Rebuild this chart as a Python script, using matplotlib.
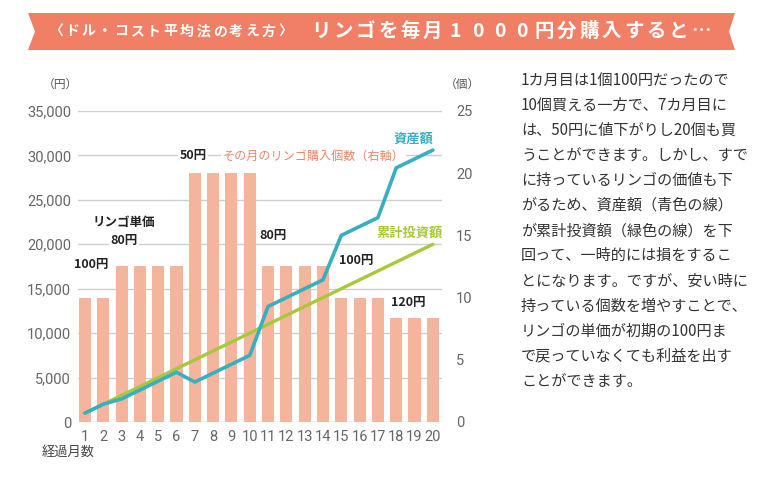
import numpy as np
import matplotlib
matplotlib.use("Agg")
import matplotlib.pyplot as plt
from matplotlib.patches import Polygon

plt.rcParams['font.family'] = ['Noto Sans CJK JP', 'DejaVu Sans']

# データ
months = list(range(1, 21))
kosu = [10, 10, 12.5, 12.5, 12.5, 12.5, 20, 20, 20, 20,
        12.5, 12.5, 12.5, 12.5, 10, 10, 10, 8.33, 8.33, 8.33]
toshi = [1000, 2000, 3000, 4000, 5000, 6000, 7000, 8000, 9000, 10000,
         11000, 12000, 13000, 14000, 15000, 16000, 17000, 18000, 19000, 20000]
shisan = [1000, 2000, 2600, 3600, 4600, 5600, 4500, 5500, 6500, 7500,
          13000, 14000, 15000, 16000, 21000, 22000, 23000, 28600, 29600, 30600]
yen_ticks = [0, 5000, 10000, 15000, 20000, 25000, 30000, 35000]
ko_ticks = [0, 5, 10, 15, 20, 25]

# 単価ラベル (x, y[円], text)
tanka = [(1.33, 17670, "100円"), (3.13, 22500, "リンゴ単価"), (3.13, 20480, "80円"),
         (6.9, 30000, "50円"), (11.26, 21040, "80円"), (15.79, 18120, "100円"),
         (18.63, 13500, "120円")]

honbun = ["1カ月目は1個100円だったので",
          "10個買える一方で、7カ月目に",
          "は、50円に値下がりし20個も買",
          "うことができます。しかし、すで",
          "に持っているリンゴの価値も下",
          "がるため、資産額（青色の線）",
          "が累計投資額（緑色の線）を下",
          "回って、一時的には損をするこ",
          "とになります。ですが、安い時に",
          "持っている個数を増やすことで、",
          "リンゴの単価が初期の100円ま",
          "で戻っていなくても利益を出す",
          "ことができます。"]

BAR = '#F5B59C'
TEAL = '#38AFC1'
GREEN = '#A8C83C'
GRAY = '#666666'
W, H = 757, 492

fig = plt.figure(figsize=(7.57, 4.92), dpi=100)

# 見出しの帯
pts = [(28, 13), (735, 13), (729, 31.5), (735, 50), (28, 50), (35, 31.5)]
fig.patches.append(Polygon([(x / W, 1 - y / H) for x, y in pts], closed=True,
                           transform=fig.transFigure, facecolor='#F07F66',
                           edgecolor='none'))

def spaced(text, x0, x1, y, **kw):
    xs = np.linspace(x0, x1, len(text))
    for ch, x in zip(text, xs):
        fig.text(x / W, 1 - y / H, ch, ha='center', va='center', color='white', **kw)

spaced("〈ドル・コスト平均法の考え方〉", 56, 285, 31.5, fontsize=10, fontweight='bold')
spaced("リンゴを毎月1000円分購入すると…", 321, 701, 31.5, fontsize=14, fontweight='bold')

# グラフ
ax = fig.add_axes([78 / W, 1 - 422 / H, (442 - 78) / W, (422 - 111) / H])
ax2 = ax.twinx()
ax3 = ax.twinx()

ax.set_xlim(0.62, 20.5)
ax.set_ylim(0, 35000)
ax.set_yticks(yen_ticks)
ax.set_yticklabels([f"{v:,}" for v in yen_ticks])
for v in yen_ticks:
    ax.axhline(v, color='#CFCFCF', lw=1, zorder=0)
ax.set_xticks(months)

ax2.bar(months, kosu, width=0.66, color=BAR, zorder=2)
ax2.set_ylim(0, 25)
ax2.set_yticks(ko_ticks)

ax3.plot(months, toshi, color=GREEN, lw=2.4, solid_capstyle='round', zorder=3)
ax3.plot(months, shisan, color=TEAL, lw=2.6, solid_capstyle='round', zorder=3)
ax3.set_ylim(0, 35000)
ax3.set_yticks([])

for a in (ax, ax2, ax3):
    for s in a.spines.values():
        s.set_visible(False)
    a.tick_params(length=0, labelcolor=GRAY)
for lab in ax.get_xticklabels() + ax.get_yticklabels() + ax2.get_yticklabels():
    lab.set_fontfamily(['Roboto', 'DejaVu Sans'])
    lab.set_fontsize(10.5)
ax.tick_params(axis='y', pad=5)
ax.tick_params(axis='x', pad=6)
ax2.tick_params(axis='y', pad=10)

for x, y, t in tanka:
    ax3.text(x, y, t, ha='center', va='center', fontsize=9, fontweight='bold', zorder=1,
             color='#222222', bbox=dict(facecolor='white', edgecolor='none', pad=0.8))

ax3.text(8.53, 29900, "その月のリンゴ購入個数（右軸）", ha='left', va='center', fontsize=8.7,
         color='#E8866A', zorder=1, bbox=dict(facecolor='white', edgecolor='none', pad=1.2))
ax3.text(18.96, 31900, "資産額", ha='center', va='center', fontsize=9.5, color=TEAL,
         fontweight='bold')
ax3.text(18.74, 21270, "累計投資額", ha='center', va='center', fontsize=9.5, color=GREEN,
         fontweight='bold')

fig.text(60 / W, 1 - 84 / H, "（円）", ha='center', va='center', fontsize=8.5, color='#555555')
fig.text(462 / W, 1 - 84 / H, "（個）", ha='center', va='center', fontsize=8.5, color='#555555')
fig.text(42 / W, 1 - 452 / H, "経過月数", ha='left', va='center', fontsize=9.5, color='#444444')

# 説明文
for i, line in enumerate(honbun):
    fig.text(521 / W, 1 - (80 + 25.1 * i) / H, line, ha='left', va='center',
             fontsize=10.9, color='#333333')

fig.savefig("out.png", dpi=100, facecolor='white')
